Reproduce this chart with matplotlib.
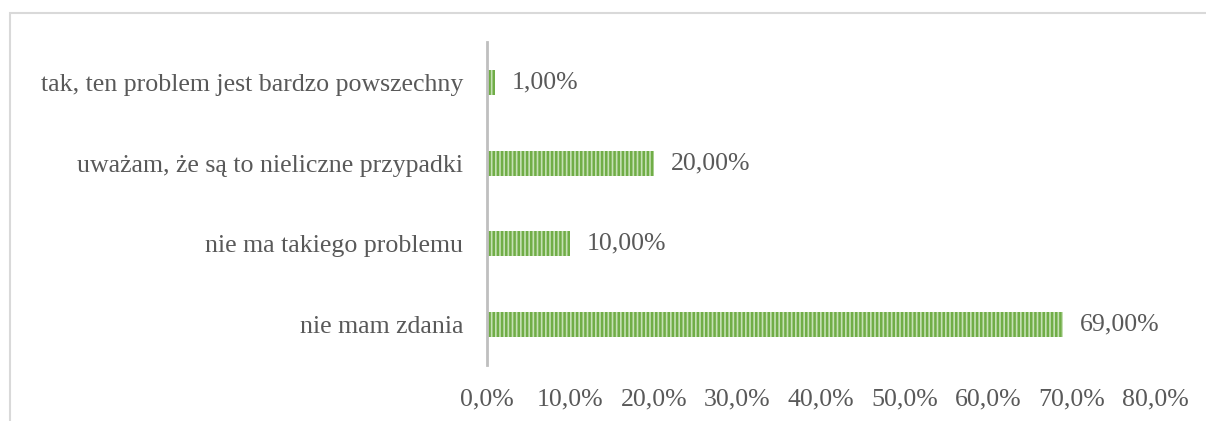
import matplotlib.pyplot as plt
from matplotlib.patches import Rectangle

# dane
kategorie = ["nie mam zdania", "nie ma takiego problemu",
             "uważam, że są to nieliczne przypadki",
             "tak, ten problem jest bardzo powszechny"]
wartosci = [69.0, 10.0, 20.0, 1.0]
etykiety = ["69,00%", "10,00%", "20,00%", "1,00%"]
ticki = [0, 10, 20, 30, 40, 50, 60, 70, 80]
ticki_lab = ["0,0%", "10,0%", "20,0%", "30,0%", "40,0%", "50,0%", "60,0%", "70,0%", "80,0%"]

plt.rcParams['font.family'] = ['Liberation Serif', 'DejaVu Serif']
plt.rcParams['hatch.linewidth'] = 1.8
szary = "#595959"
rozmiar = 18.6

fig = plt.figure(figsize=(12.06, 4.21), dpi=100)
ax = fig.add_axes([0.4038, 0.133, 0.554, 0.767])

y = range(len(kategorie))
# tlo paska i paski w prazki
ax.barh(y, wartosci, height=0.31, color="#c5e0b4", edgecolor="none")
ax.barh(y, wartosci, height=0.31, facecolor="none", edgecolor="#70AD47",
        linewidth=0, hatch="||||")

for i, (v, t) in enumerate(zip(wartosci, etykiety)):
    ax.text(v + 2.0, i, t, va="center", ha="left", fontsize=rozmiar, color=szary)

ax.set_xlim(0, 80)
ax.set_ylim(-0.5, 3.5)
ax.set_yticks(list(y))
ax.set_yticklabels(kategorie, fontsize=rozmiar, color=szary)
ax.set_xticks(ticki)
ax.set_xticklabels(ticki_lab, fontsize=rozmiar, color=szary)
ax.tick_params(axis="both", length=0)
ax.tick_params(axis="y", pad=17)
ax.tick_params(axis="x", pad=17)

for s in ["top", "right", "bottom"]:
    ax.spines[s].set_visible(False)
ax.spines["left"].set_color("#BFBFBF")
ax.spines["left"].set_linewidth(2)

# ramka wykresu
fig.add_artist(Rectangle((10 / 1206, -0.1), 1.2, 1 - 13 / 421 + 0.1,
                         transform=fig.transFigure, fill=False,
                         edgecolor="#D9D9D9", linewidth=1.5))

fig.savefig("out.png", dpi=100)
